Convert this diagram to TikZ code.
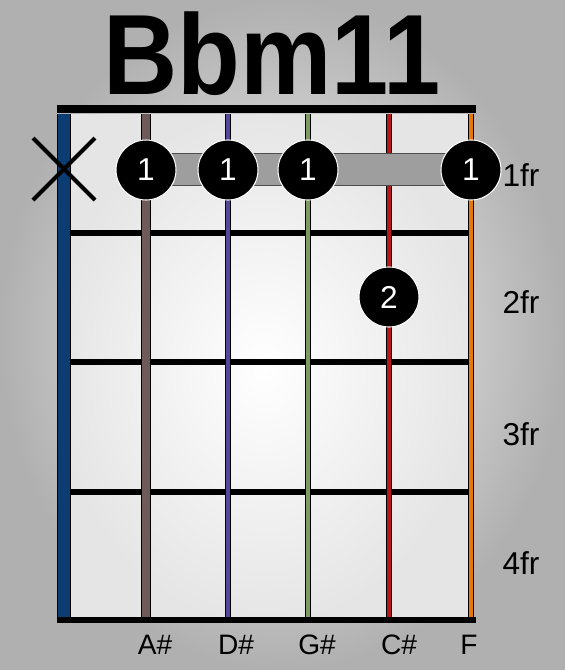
\documentclass[tikz,border=0pt]{standalone}
\usepackage{fontspec}
\setmainfont{Liberation Sans}
\definecolor{stringA}{HTML}{0B3D73}
\definecolor{stringB}{HTML}{6E5A58}
\definecolor{stringC}{HTML}{54479A}
\definecolor{stringD}{HTML}{7E9A62}
\definecolor{stringE}{HTML}{B5191E}
\definecolor{stringF}{HTML}{E8760F}
\tikzset{
  finger/.style={circle,fill=black,draw=white,line width=0.6pt,minimum size=1.2cm,
    inner sep=0pt,text=white,font=\fontsize{18}{18}\selectfont},
  fretlbl/.style={font=\fontsize{18}{18}\selectfont},
  notelbl/.style={font=\fontsize{16}{16}\selectfont},
  barre/.style={fill=black!38,draw=black!70,line width=0.6pt}
}
\begin{document}
\begin{tikzpicture}[x=0.02cm,y=-0.02cm]
\useasboundingbox (0,0) rectangle (565,670);
\shade[inner color=gray!5,outer color=gray!62] (0,0) rectangle (565,670);
\shade[inner color=white,outer color=gray!20] (58,114) rectangle (471,620);
\node[font=\fontsize{65}{65}\selectfont\bfseries,anchor=base,xscale=0.9,inner sep=0pt] (title) at (272,94) {Bbm11};
% frets
\foreach \y in {233,362,492}
  \draw[line width=3.4pt] (70,\y) -- (470,\y);
% strings
\foreach \x/\c/\w in {64/stringA/12,146/stringB/8,228/stringC/4,308/stringD/4,389/stringE/5,471/stringF/5}{
  \draw[line width={(\w+2)*0.567pt}] (\x,114) -- (\x,618);
  \draw[\c,line width={\w*0.567pt}] (\x,114) -- (\x,618);
}
\draw[line width=4.6pt] (57,109) -- (476,109);
\draw[line width=3.6pt] (57,620) -- (476,620);
% barre on 1st fret
\coordinate (b1) at (146,170);
\coordinate (b6) at (471,170);
\filldraw[barre] ([yshift=0.33cm]b1) rectangle ([yshift=-0.31cm]b6);
\node[finger] (f1) at (b1) {1};
\node[finger] (f2) at (228,170) {1};
\node[finger] (f3) at (308,170) {1};
\node[finger] (f6) at (b6) {1};
\node[finger] (f5) at (389,297) {2};
% muted string
\coordinate (mute) at (64,169);
\draw[line width=2.4pt] ([shift={(-31,-31)}]mute) -- ([shift={(31,31)}]mute);
\draw[line width=2.4pt] ([shift={(-31,31)}]mute) -- ([shift={(31,-31)}]mute);
\node[fretlbl] (fr1) at (521,175) {1fr};
\node[fretlbl] (fr2) at (521,302) {2fr};
\node[fretlbl] (fr3) at (521,434) {3fr};
\node[fretlbl] (fr4) at (521,563) {4fr};
\node[notelbl] (n2) at (155,645) {A\#};
\node[notelbl] (n3) at (236,645) {D\#};
\node[notelbl] (n4) at (317,645) {G\#};
\node[notelbl] (n5) at (399,645) {C\#};
\node[notelbl] (n6) at (469,645) {F};
\end{tikzpicture}
\end{document}
